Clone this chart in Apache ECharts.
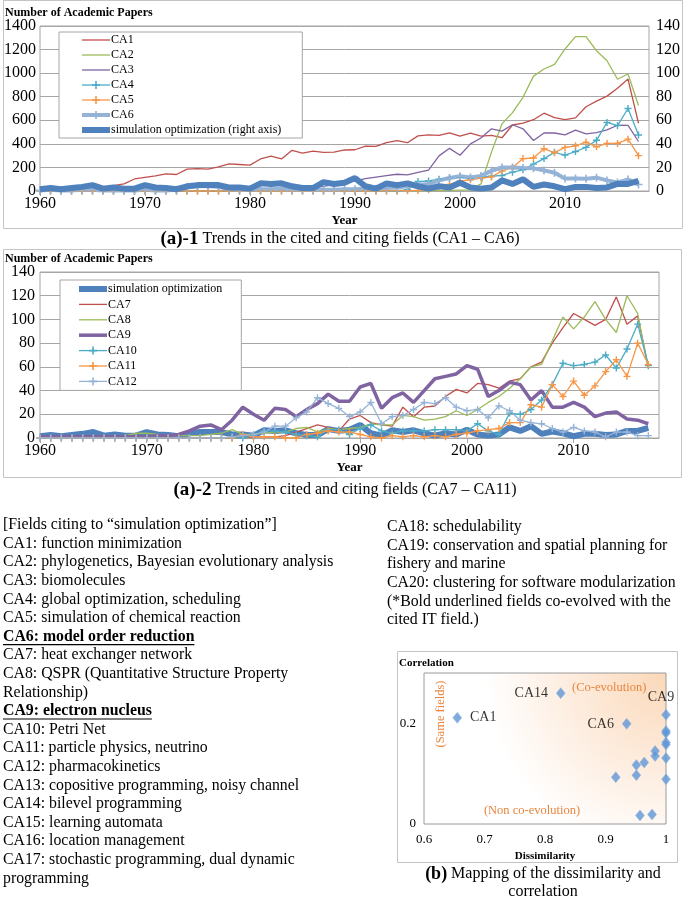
<!DOCTYPE html>
<html><head><meta charset="utf-8">
<script src="https://cdn.jsdelivr.net/npm/echarts@6/dist/echarts.min.js"></script>
<style>html,body{margin:0;padding:0;background:#fff}#c{width:685px;height:902px}</style>
</head><body><div id="c"></div><script>
// ---------- data ----------
const years = [1960,1961,1962,1963,1964,1965,1966,1967,1968,1969,1970,1971,1972,1973,1974,1975,1976,1977,1978,1979,
1980,1981,1982,1983,1984,1985,1986,1987,1988,1989,1990,1991,1992,1993,1994,1995,1996,1997,1998,1999,
2000,2001,2002,2003,2004,2005,2006,2007,2008,2009,2010,2011,2012,2013,2014,2015,2016,2017];
const xTickLabels = [1960,1970,1980,1990,2000,2010];

const ca1 = [2,3,5,8,12,20,30,45,60,102, 115,128,145,140,185,190,185,205,230,225,
220,272,295,272,345,322,338,327,330,348, 350,380,378,410,428,410,468,476,472,494,
465,492,466,472,452,560,575,605,660,622, 605,620,715,762,805,872,950,575];
const ca2 = [0,0,0,0,0,0,0,0,0,0, 0,0,0,0,0,0,0,0,0,0, 0,0,0,0,0,0,0,0,0,0,
0,0,0,3,5,5,2,2,3,5, 8,10,60,330,570,665,795,975,1035,1075, 1205,1310,1310,1190,1105,948,993,725];
const ca3 = [0,0,0,0,0,0,0,0,0,0, 0,0,0,0,0,0,0,0,0,0, 5,10,10,15,20,25,30,40,55,75,
85,105,118,130,142,136,158,178,298,362, 303,400,450,528,508,562,528,428,492,492, 476,516,484,496,518,558,556,420];
const ca4 = [0,0,0,0,0,0,0,0,0,0, 0,0,0,0,0,0,0,0,0,0, 0,0,0,0,0,0,0,0,0,0,
0,0,0,0,0,10,80,85,100,110, 118,108,120,125,132,160,180,228,275,328, 305,335,370,430,582,555,700,475];
const ca5 = [0,0,0,0,0,0,0,0,0,0, 0,0,0,0,0,0,0,0,0,0, 0,0,0,0,0,0,0,0,0,0,
0,0,0,2,3,3,5,10,30,55, 85,95,110,120,170,200,275,280,358,325, 370,383,415,375,404,404,440,300];
const ca6 = [5,10,5,5,10,10,5,5,5,5, 10,5,5,10,30,40,40,35,15,10, 10,15,15,20,10,10,10,10,10,15,
15,20,20,25,30,40,50,60,90,110, 125,115,128,172,200,200,195,192,175,155, 106,106,104,113,90,72,97,55];
const simOpt = [1.5,2.5,1.5,2.5,3.5,5,2,3,2,2, 5,3,2.5,1.5,4,5,5,5,3,3, 2,6.5,6,6.5,4,2.5,2.5,7.5,6,7,
11,4,2,6.5,5,6.5,4,2,4,3, 7,3,2,3,9,6,10,3.5,5.5,4, 1.5,3.5,3.5,2.5,3,6,6,8.5];

const ca7 = [0,0,0,0,0,0,0,0,0,0, 0,0,0,0,0,0,0,0,0,0, 1,1,1,2,5,8,11,9,6,16,
19,13,11,10,26,18,26,27,35,41, 38,46,45,42,48,50,60,64,80,93, 105,100,95,100,119,96,103,60];
const ca8 = [0,0,0,0,0,0,0,0,2,4, 4,3,2,2,2,2,3,4,7,3, 3,4,5,5,8,9,5,8,7,8,
9,12,11,11,19,18,15,16,18,23, 19,24,30,35,42,50,60,62,82,102, 92,102,115,100,89,120,105,59];
const ca9 = [1,1,1,1,1,1,1,1,1,1, 1,2,2,3,6,10,11,7,15,26, 20,15,25,24,18,24,29,37,31,31,
43,46,25,34,38,30,40,50,52,54, 61,58,35,40,47,45,32,40,26,26, 30,26,18,21,22,16,15,12];
const ca10 = [0,0,0,0,0,0,0,0,0,0, 0,0,0,0,0,0,0,0,0,0, 2,6,6,5,3,2,1,7,7,3,
8,11,6,4,6,6,6,7,7,7, 6,12,6,3,21,20,24,32,45,63, 61,62,64,70,59,75,96,61];
const ca11 = [0,0,0,0,0,0,0,0,0,0, 0,0,0,0,0,0,0,0,0,3, 1,1,1,0,0,3,4,6,5,5,
3,1,0,2,1,2,1,2,1,3, 4,6,7,8,13,13,28,26,45,35, 48,36,44,56,66,52,80,62];
const ca12 = [0,0,0,0,0,0,0,0,0,0, 0,0,0,0,0,0,0,0,1,2, 3,5,10,10,17,22,34,29,25,18,
22,30,12,18,19,24,30,29,34,26, 23,24,17,27,23,15,13,12,8,5, 9,6,5,1,5,5,2,2];

const pointNames = ['CA1','CA14','CA6','CA9','','','','','','','','','','','','','',''];
const dissim = [0.655,0.826,0.935,1.0,1.0,1.0,1.0,1.0,1.0,1.0,0.982,0.982,0.964,0.951,0.951,0.917,0.957,0.977];
const corr   = [0.211,0.260,0.199,0.217,0.185,0.181,0.162,0.158,0.131,0.089,0.145,0.135,0.122,0.117,0.097,0.093,0.017,0.019];
const scatterXTicks = [0.6,0.7,0.8,0.9,1];
const scatterYTicks = [0,0.2];

const leftText = [
 ['[Fields citing to \u201csimulation optimization\u201d]',0],
 ['CA1: function minimization',0],
 ['CA2: phylogenetics, Bayesian evolutionary analysis',0],
 ['CA3: biomolecules',0],
 ['CA4: global optimization, scheduling',0],
 ['CA5: simulation of chemical reaction',0],
 ['CA6: model order reduction',1],
 ['CA7: heat exchanger network',0],
 ['CA8: QSPR (Quantitative Structure Property',0],
 ['Relationship)',0],
 ['CA9: electron nucleus',1],
 ['CA10: Petri Net',0],
 ['CA11: particle physics, neutrino',0],
 ['CA12: pharmacokinetics',0],
 ['CA13: copositive programming, noisy channel',0],
 ['CA14: bilevel programming',0],
 ['CA15: learning automata',0],
 ['CA16: location management',0],
 ['CA17: stochastic programming, dual dynamic',0],
 ['programming',0]
];
const rightText = [
 'CA18: schedulability',
 'CA19: conservation and spatial planning for',
 'fishery and marine',
 'CA20: clustering for software modularization',
 '(*Bold underlined fields co-evolved with the',
 'cited IT field.)'
];

// ---------- styling ----------
const F = '"Liberation Serif","Times New Roman",serif';
const PLUS = 'path://M4,0H6V4H10V6H6V10H4V6H0V4H4Z';
const GRID_C = '#a6a6a6';
const BODY = 15.8;
const pairs = arr => years.map((y, i) => [y, arr[i]]);

function lineSeries(name, arr, xi, yi, color, width, marker, z) {
  return {
    name, type: 'line', xAxisIndex: xi, yAxisIndex: yi, data: pairs(arr),
    symbol: marker ? PLUS : 'none', symbolSize: marker || 1, showSymbol: !!marker,
    itemStyle: { color }, lineStyle: { color, width }, z: z || 2,
    animation: false, emphasis: { disabled: true }, silent: true
  };
}

function yearAxis(gi) {
  return {
    gridIndex: gi, type: 'value', min: 1960, max: 2018,
    axisLine: { show: true, lineStyle: { color: GRID_C } },
    axisTick: { show: true, length: 5, lineStyle: { color: GRID_C }, customValues: xTickLabels },
    axisLabel: { fontFamily: F, fontSize: 16, color: '#000', margin: 5, customValues: xTickLabels,
      formatter: v => String(v) },
    splitLine: { show: false },
    name: 'Year', nameLocation: 'middle', nameGap: 23,
    nameTextStyle: { fontFamily: F, fontWeight: 'bold', fontSize: 13, color: '#000' }
  };
}
function valAxis(gi, max, interval, pos, split, margin) {
  return {
    gridIndex: gi, type: 'value', min: 0, max, interval, position: pos,
    axisLine: { show: false }, axisTick: { show: false },
    axisLabel: { fontFamily: F, fontSize: 16, color: '#000', margin, formatter: v => String(v) },
    splitLine: { show: split, lineStyle: { color: GRID_C, width: 1 } }
  };
}

// ---------- graphics (text & frames) ----------
const G = [];
function txt(text, x, y, st, extra) {
  G.push(Object.assign({ type: 'text', x, y, silent: true, z: 50,
    style: Object.assign({ text, fill: '#000', fontFamily: F, fontSize: BODY, align: 'left', verticalAlign: 'middle' }, st) }, extra || {}));
}
function rect(x, y, w, h, stroke) {
  G.push({ type: 'rect', silent: true, z: 40, shape: { x, y, width: w, height: h },
    style: { fill: 'none', stroke: stroke || '#c4c4c4', lineWidth: 1 } });
}
rect(3.5, 0.5, 679, 228);
rect(3.5, 249.5, 678, 228);
rect(397.5, 651.5, 280, 211);

txt('Number of Academic Papers', 5, 13, { fontWeight: 'bold', fontSize: 12 });
txt('Number of Academic Papers', 5, 259, { fontWeight: 'bold', fontSize: 12 });
txt('{b|(a)-1} Trends in the cited and citing fields (CA1 \u2013 CA6)', 340, 239,
  { align: 'center', fontSize: 16, rich: { b: { fontWeight: 'bold', fontSize: 19, fontFamily: F } } });
txt('{b|(a)-2} Trends in cited and citing fields (CA7 \u2013 CA11)', 345, 490,
  { align: 'center', fontSize: 16, rich: { b: { fontWeight: 'bold', fontSize: 19, fontFamily: F } } });
txt('{b|(b)} Mapping of the dissimilarity and', 543, 874,
  { align: 'center', fontSize: 16, rich: { b: { fontWeight: 'bold', fontSize: 18, fontFamily: F } } });
txt('correlation', 543, 892, { align: 'center', fontSize: 16 });
txt('Correlation', 399, 663, { fontWeight: 'bold', fontSize: 11 });

const meas = document.createElement('canvas').getContext('2d');
const LH = 18.6;
leftText.forEach((t, i) => {
  const y = 525 + i * LH;
  txt(t[0], 3, y, t[1] ? { fontWeight: 'bold' } : {});
  if (t[1]) {
    meas.font = 'bold ' + BODY + 'px ' + F;
    const w = meas.measureText(t[0]).width;
    G.push({ type: 'line', silent: true, z: 50, shape: { x1: 3, y1: y + 8, x2: 3 + w, y2: y + 8 },
      style: { stroke: '#000', lineWidth: 1.2 } });
  }
});
rightText.forEach((t, i) => txt(t, 387, 527 + i * LH, {}));

// scatter annotations
const ORANGE = '#e8853f';
txt('(Co-evolution)', 572, 688, { fill: ORANGE, fontSize: 12.5 });
txt('(Non co-evolution)', 532, 811, { fill: ORANGE, fontSize: 12.5, align: 'center' });
txt('(Same fields)', 441, 714, { fill: ORANGE, fontSize: 12.5, align: 'center' }, { rotation: Math.PI / 2 });

// ---------- chart ----------
const chart = echarts.init(document.getElementById('c'), null, { renderer: 'canvas', width: 685, height: 902 });

const labelPos = { CA1: 'right', CA14: 'left', CA6: 'left', CA9: 'top' };
const scatterData = dissim.map((d, i) => {
  const n = pointNames[i];
  const o = { value: [d, corr[i]], name: n };
  if (n) o.label = { show: true, position: labelPos[n], distance: n === 'CA9' ? 5 : 8, formatter: n,
    offset: n === 'CA9' ? [-5, 0] : [0, 0], fontFamily: F, fontSize: 14, color: '#000' };
  return o;
});

const legendText = { fontFamily: F, fontSize: 12, color: '#000', lineHeight: 12, padding: [0, 0, 0, -4] };
const topLegend = ['CA1','CA2','CA3','CA4','CA5','CA6','simulation optimization (right axis)'];
const topW = [1.3,1.3,1.3,1.3,1.3,4,6];
const topMark = [0,0,0,1,1,1,0];
const botLegend = ['simulation optimization','CA7','CA8','CA9','CA10','CA11','CA12'];
const botW = [6,1.3,1.3,3.5,1.3,1.3,1.3];
const botMark = [0,0,0,0,1,1,1];
const legItem = (n, w, m) => m ? { name: n, lineStyle: { width: w } }
                              : { name: n, lineStyle: { width: w }, itemStyle: { opacity: 0 } };

chart.setOption({
  backgroundColor: '#fff',
  animation: false,
  textStyle: { fontFamily: F },
  grid: [
    { left: 40, top: 26, width: 609, height: 165, show: true, borderColor: GRID_C, borderWidth: 1, containLabel: false, outerBoundsMode: 'none' },
    { left: 40, top: 272, width: 619, height: 166, show: true, borderColor: GRID_C, borderWidth: 1, containLabel: false, outerBoundsMode: 'none' },
    { left: 424, top: 673, width: 242, height: 151, show: true, borderColor: '#9a9a9a', borderWidth: 1, containLabel: false, outerBoundsMode: 'none',
      backgroundColor: new echarts.graphic.RadialGradient(1, 0, 1.5, [
        { offset: 0, color: '#fbd8b8' }, { offset: 0.4, color: '#fdebdc' }, { offset: 0.8, color: '#ffffff' }, { offset: 1, color: '#ffffff' }]) }
  ],
  xAxis: [
    yearAxis(0), yearAxis(1),
    { gridIndex: 2, type: 'value', min: 0.6, max: 1, interval: 0.1,
      axisLine: { show: false }, axisTick: { show: false }, splitLine: { show: false },
      axisLabel: { fontFamily: F, fontSize: 13, color: '#000', margin: 9, customValues: scatterXTicks },
      name: 'Dissimilarity', nameLocation: 'middle', nameGap: 27,
      nameTextStyle: { fontFamily: F, fontWeight: 'bold', fontSize: 11, color: '#000' } }
  ],
  yAxis: [
    valAxis(0, 1400, 200, 'left', true, 4),
    valAxis(0, 140, 20, 'right', false, 7),
    valAxis(1, 140, 20, 'left', true, 5),
    { gridIndex: 2, type: 'value', min: 0, max: 0.3, interval: 0.1,
      axisLine: { show: false }, axisTick: { show: false }, splitLine: { show: false },
      axisLabel: { fontFamily: F, fontSize: 13, color: '#000', margin: 8, customValues: scatterYTicks } }
  ],
  legend: [
    { show: true, selectedMode: false, orient: 'vertical', left: 59, top: 32, itemWidth: 28, itemHeight: 10, itemGap: 3,
      padding: [2, 21, 2, 20], borderColor: GRID_C, borderWidth: 1, backgroundColor: '#fff',
      textStyle: legendText, data: topLegend.map((n, i) => legItem(n, topW[i], topMark[i])) },
    { show: true, selectedMode: false, orient: 'vertical', left: 60, top: 280, itemWidth: 28, itemHeight: 10, itemGap: 3.4,
      padding: [3, 19, 3, 16], borderColor: GRID_C, borderWidth: 1, backgroundColor: '#fff',
      textStyle: legendText, data: botLegend.map((n, i) => legItem(n, botW[i], botMark[i])) }
  ],
  series: [
    lineSeries('CA1', ca1, 0, 0, '#c0504d', 1.3),
    lineSeries('CA2', ca2, 0, 0, '#9bbb59', 1.3),
    lineSeries('CA3', ca3, 0, 0, '#8064a2', 1.3),
    lineSeries('CA4', ca4, 0, 0, '#4bacc6', 1.3, 7),
    lineSeries('CA5', ca5, 0, 0, '#f79646', 1.3, 7),
    lineSeries('CA6', ca6, 0, 0, '#95b3d7', 4, 8),
    lineSeries('simulation optimization (right axis)', simOpt, 0, 1, '#4f81bd', 6, 0, 5),

    lineSeries('simulation optimization', simOpt, 1, 2, '#4f81bd', 6, 0, 2),
    lineSeries('CA7', ca7, 1, 2, '#c0504d', 1.3, 0, 3),
    lineSeries('CA8', ca8, 1, 2, '#9bbb59', 1.3, 0, 3),
    lineSeries('CA9', ca9, 1, 2, '#8064a2', 3.5, 0, 3),
    lineSeries('CA10', ca10, 1, 2, '#4bacc6', 1.3, 7, 3),
    lineSeries('CA11', ca11, 1, 2, '#f79646', 1.3, 7, 3),
    lineSeries('CA12', ca12, 1, 2, '#95b3d7', 1.3, 7, 3),

    { name: 'fields', type: 'scatter', xAxisIndex: 2, yAxisIndex: 3, data: scatterData,
      symbol: 'diamond', symbolSize: [9, 11], itemStyle: { color: '#5f96d6', borderColor: '#8db6e6', borderWidth: 0.5 },
      silent: true, animation: false, z: 5 }
  ],
  graphic: G
});
</script></body></html>
